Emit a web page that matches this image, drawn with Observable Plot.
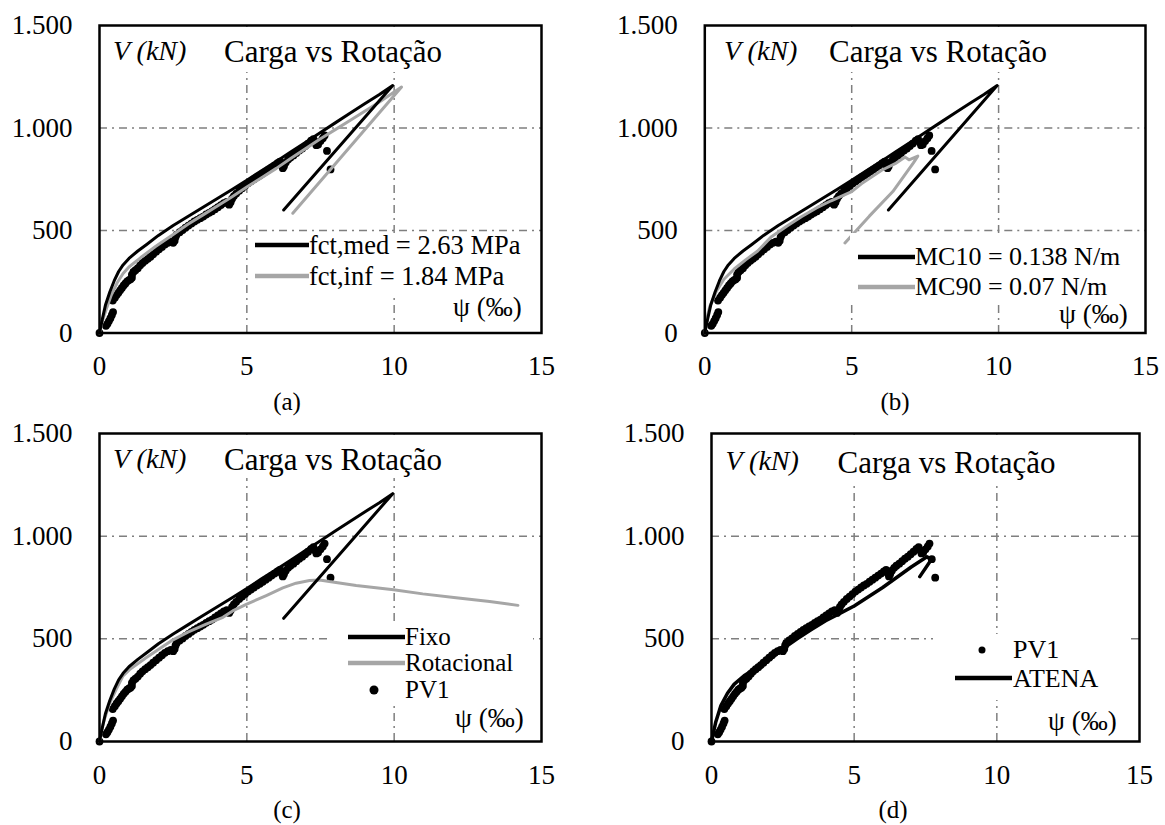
<!DOCTYPE html>
<html>
<head>
<meta charset="utf-8">
<script src="https://cdn.jsdelivr.net/npm/d3@7"></script>
<script src="https://cdn.jsdelivr.net/npm/@observablehq/plot@0.6"></script>
<style>
  html, body { margin: 0; padding: 0; background: #fff; }
  #root { position: relative; width: 1165px; height: 825px; overflow: hidden; background: #fff; }
  .panel { position: absolute; }
  .panel svg, .panel svg text, .panel svg g {
    font-family: "Liberation Serif", "Times New Roman", serif !important;
    font-size: 27px !important;
  }
  #ov text { font-family: "Liberation Serif", "Times New Roman", serif; }
</style>
</head>
<body>
<div id="root"></div>
<script>
// ---------------- DATA ----------------
const xTicks = [0, 5, 10, 15];
const xTickLabels = ["0", "5", "10", "15"];
const yTicks = [0, 500, 1000, 1500];
const yTickLabels = ["0", "500", "1.000", "1.500"];
const gridXValues = [5, 10];
const gridYValues = [500, 1000];

// Experimental PV1 : [psi (‰), V (kN)]
const pv1 = [
  [0, 0],
  [0.22, 35], [0.27, 45], [0.32, 58], [0.37, 72], [0.42, 88], [0.46, 102],
  [0.45, 158], [0.52, 172], [0.58, 185], [0.64, 196], [0.70, 208], [0.76, 220],
  [0.82, 232], [0.88, 242], [0.94, 252], [1.00, 258], [1.05, 262], [1.10, 270],
  [1.10, 285], [1.15, 298], [1.22, 306], [1.30, 316], [1.38, 330], [1.46, 342],
  [1.55, 352], [1.64, 362], [1.73, 372], [1.82, 384], [1.92, 396], [2.02, 408],
  [2.12, 420], [2.22, 432], [2.32, 440], [2.42, 446], [2.50, 440], [2.55, 450],
  [2.58, 468], [2.62, 480], [2.72, 492], [2.82, 502], [2.92, 514], [3.02, 524],
  [3.12, 534], [3.22, 544], [3.32, 552], [3.42, 560], [3.52, 568], [3.62, 578],
  [3.72, 586], [3.82, 594], [3.92, 604], [4.02, 614], [4.12, 624], [4.22, 634],
  [4.32, 640], [4.40, 626], [4.45, 638], [4.50, 655], [4.56, 668], [4.64, 680],
  [4.74, 694], [4.84, 706], [4.94, 718], [5.04, 730], [5.14, 740], [5.24, 750],
  [5.34, 760], [5.44, 768], [5.54, 778], [5.64, 788], [5.74, 798], [5.84, 808],
  [5.94, 818], [6.04, 828], [6.12, 836], [6.18, 820], [6.22, 804], [6.26, 814],
  [6.32, 832], [6.40, 846], [6.48, 856], [6.58, 866], [6.68, 878], [6.78, 890],
  [6.88, 900], [6.98, 912], [7.08, 924], [7.18, 938], [7.26, 946], [7.32, 930],
  [7.36, 916], [7.42, 920], [7.50, 936], [7.58, 950], [7.64, 964],
  [7.72, 888], [7.84, 798]
];

// Model, fixed rotation (fct,med = MC10 = Fixo)
const fctMed = [
  [0, 0], [0.1, 70], [0.2, 135], [0.35, 200], [0.5, 255], [0.65, 300], [0.8, 332],
  [1.0, 364], [1.3, 400], [1.6, 432], [2.0, 476], [2.5, 524], [3.0, 568],
  [3.5, 612], [4.0, 656], [4.5, 700], [5.0, 745], [5.5, 792], [6.0, 837], [6.5, 884],
  [7.0, 931], [7.5, 978], [8.0, 1025], [8.5, 1072], [9.0, 1118], [9.5, 1163],
  [9.95, 1207], [6.25, 600]
];
const mc10 = fctMed;
const fixo = fctMed;

const fctInf = [
  [0, 0], [0.1, 60], [0.25, 125], [0.4, 185], [0.6, 245], [0.8, 290], [1.0, 322],
  [1.4, 368], [1.9, 422], [2.5, 480], [3.0, 530], [3.5, 575], [4.0, 620], [4.5, 665],
  [5.0, 712], [5.5, 757], [6.0, 803], [6.5, 852], [7.0, 900], [7.5, 948], [8.0, 992],
  [8.5, 1037], [9.0, 1082], [9.5, 1127], [10.25, 1200], [6.56, 584]
];

const mc90 = [
  [0, 0], [0.05, 60], [0.17, 130], [0.4, 205], [0.65, 262], [1.0, 312], [1.4, 358],
  [1.8, 400], [2.27, 470], [2.8, 522], [3.3, 568], [3.8, 610], [4.3, 645], [5.0, 690],
  [5.34, 729], [6.02, 794], [6.48, 826], [6.82, 858], [6.95, 845], [7.25, 863],
  [7.1, 830], [6.4, 690], [5.6, 570], [4.77, 439]
];

const rotacional = [
  [0, 0], [0.06, 50], [0.17, 110], [0.34, 185], [0.57, 255], [0.79, 318], [1.02, 350],
  [1.58, 408], [2.43, 490], [3.0, 533], [3.6, 570], [4.19, 605], [4.52, 636], [4.98, 668],
  [5.66, 711], [6.22, 748], [6.67, 771], [7.13, 784], [7.47, 787], [7.8, 779],
  [8.71, 760], [9.98, 739], [10.97, 719], [12.1, 700], [13.24, 682], [14.2, 663]
];

const atena = [
  [0, 0], [0.15, 95], [0.33, 175], [0.56, 235], [0.79, 278], [1.14, 320], [1.61, 362],
  [2.08, 403], [2.5, 452], [3.0, 500], [3.5, 545], [4.0, 588], [4.5, 624], [5.0, 660],
  [5.5, 705], [6.0, 750], [6.5, 800], [7.0, 850], [7.55, 900], [7.7, 885], [7.3, 803]
];

// ---------------- STYLE / LAYOUT ----------------
const FONT = "Liberation Serif, Times New Roman, serif";
const BLACK = "#000000";
const GRAY = "#a6a6a6";
const GRID = "#7f7f7f";

const panels = [
  {
    left: 0, top: 0, w: 580, h: 412, ml: 99, mr: 39, mt: 25, mb: 79.5,
    series: [
      { kind: "dot", data: pv1 },
      { kind: "line", data: fctInf, color: GRAY },
      { kind: "line", data: fctMed, color: BLACK }
    ],
    boxes: [[218, 27, 452, 72], [250, 233, 532, 293]],
    texts: [
      { t: "V (kN)", x: 113, y: 60, s: 28, it: true },
      { t: "Carga vs Rotação", x: 224, y: 62, s: 31 },
      { t: "fct,med = 2.63 MPa", x: 309, y: 254, s: 26.5 },
      { t: "fct,inf = 1.84 MPa", x: 309, y: 285, s: 26.5 },
      { t: "ψ (‰)", x: 453, y: 316, s: 27 },
      { t: "(a)", x: 287, y: 410, s: 25, a: "middle" }
    ],
    swatches: [[255, 309, 245, BLACK], [255, 309, 276, GRAY]],
    dots: []
  },
  {
    left: 580, top: 0, w: 585, h: 412, ml: 124.3, mr: 20, mt: 25, mb: 79.5,
    series: [
      { kind: "dot", data: pv1 },
      { kind: "line", data: mc90, color: GRAY },
      { kind: "line", data: mc10, color: BLACK }
    ],
    boxes: [[823, 27, 1058, 72], [850, 233, 1140, 302]],
    texts: [
      { t: "V (kN)", x: 724, y: 60, s: 28, it: true },
      { t: "Carga vs Rotação", x: 829, y: 62, s: 31 },
      { t: "MC10 = 0.138 N/m", x: 915, y: 265, s: 26 },
      { t: "MC90 = 0.07 N/m", x: 915, y: 295, s: 26 },
      { t: "ψ (‰)", x: 1059, y: 323, s: 27 },
      { t: "(b)", x: 895, y: 410, s: 25, a: "middle" }
    ],
    swatches: [[858, 915, 257, BLACK], [858, 915, 287, GRAY]],
    dots: []
  },
  {
    left: 0, top: 412, w: 580, h: 413, ml: 99, mr: 39, mt: 21, mb: 84,
    series: [
      { kind: "dot", data: pv1 },
      { kind: "line", data: rotacional, color: GRAY },
      { kind: "line", data: fixo, color: BLACK }
    ],
    boxes: [[218, 435, 452, 478], [329, 622, 533, 704]],
    texts: [
      { t: "V (kN)", x: 113, y: 468, s: 28, it: true },
      { t: "Carga vs Rotação", x: 224, y: 470, s: 31 },
      { t: "Fixo", x: 405, y: 645, s: 25 },
      { t: "Rotacional", x: 405, y: 671, s: 25 },
      { t: "PV1", x: 405, y: 698, s: 25 },
      { t: "ψ (‰)", x: 455, y: 727, s: 27 },
      { t: "(c)", x: 287, y: 818, s: 25, a: "middle" }
    ],
    swatches: [[348, 405, 637, BLACK], [348, 405, 663, GRAY]],
    dots: [[374, 690, 4.5]]
  },
  {
    left: 580, top: 412, w: 585, h: 413, ml: 131, mr: 26, mt: 21, mb: 84,
    series: [
      { kind: "dot", data: pv1 },
      { kind: "line", data: atena, color: BLACK, width: 3.5 }
    ],
    boxes: [[831, 435, 1066, 482], [933, 634, 1130, 700]],
    texts: [
      { t: "V (kN)", x: 725.5, y: 470, s: 28, it: true },
      { t: "Carga vs Rotação", x: 837.5, y: 473, s: 31 },
      { t: "PV1", x: 1013, y: 658, s: 26 },
      { t: "ATENA", x: 1013, y: 687, s: 26 },
      { t: "ψ (‰)", x: 1048, y: 730, s: 27 },
      { t: "(d)", x: 893, y: 818, s: 25, a: "middle" }
    ],
    swatches: [[955, 1012, 678, BLACK]],
    dots: [[982, 650, 3.5]]
  }
];

const root = document.getElementById("root");

function buildPanel(cfg) {
  const marks = [
    Plot.ruleX(gridXValues, { stroke: GRID, strokeWidth: 1.5, strokeDasharray: "8,5,2,5" }),
    Plot.ruleY(gridYValues, { stroke: GRID, strokeWidth: 1.5, strokeDasharray: "8,5,2,5" })
  ];
  for (const s of cfg.series) {
    if (s.kind === "dot") {
      marks.push(Plot.dot(s.data, { x: d => d[0], y: d => d[1], r: 3.9, fill: BLACK, stroke: "none" }));
    } else {
      marks.push(Plot.line(s.data, { x: d => d[0], y: d => d[1], stroke: s.color, strokeWidth: s.width || 3, strokeLinejoin: "round", strokeLinecap: "round" }));
    }
  }
  marks.push(Plot.frame({ stroke: BLACK, strokeWidth: 2.5 }));
  const chart = Plot.plot({
    width: cfg.w, height: cfg.h,
    marginLeft: cfg.ml, marginRight: cfg.mr, marginTop: cfg.mt, marginBottom: cfg.mb,
    x: { domain: [0, 15], ticks: xTicks, tickFormat: d => xTickLabels[xTicks.indexOf(d)], tickSize: 0, tickPadding: 23, label: null },
    y: { domain: [0, 1500], ticks: yTicks, tickFormat: d => yTickLabels[yTicks.indexOf(d)], tickSize: 0, tickPadding: 27, label: null },
    style: { fontFamily: FONT, fontSize: "27px", color: "#000", background: "transparent", overflow: "visible" },
    marks
  });
  const wrap = document.createElement("div");
  wrap.className = "panel";
  wrap.style.left = cfg.left + "px";
  wrap.style.top = cfg.top + "px";
  wrap.appendChild(chart);
  root.appendChild(wrap);
}

panels.forEach(buildPanel);

// Annotation layer (titles, legends, captions)
const ov = d3.select(root).append("svg")
  .attr("id", "ov")
  .attr("width", 1165).attr("height", 825)
  .style("position", "absolute").style("left", "0px").style("top", "0px");

for (const p of panels) {
  for (const [x0, y0, x1, y1] of p.boxes) {
    ov.append("rect").attr("x", x0).attr("y", y0).attr("width", x1 - x0).attr("height", y1 - y0).attr("fill", "#fff");
  }
  for (const [x0, x1, y, c] of p.swatches) {
    ov.append("line").attr("x1", x0).attr("x2", x1).attr("y1", y).attr("y2", y)
      .attr("stroke", c).attr("stroke-width", 4.5);
  }
  for (const [x, y, r] of p.dots) {
    ov.append("circle").attr("cx", x).attr("cy", y).attr("r", r).attr("fill", BLACK);
  }
  for (const t of p.texts) {
    ov.append("text").attr("x", t.x).attr("y", t.y)
      .attr("font-size", t.s + "px")
      .attr("font-style", t.it ? "italic" : "normal")
      .attr("text-anchor", t.a || "start")
      .attr("fill", "#000")
      .text(t.t);
  }
}
</script>
</body>
</html>
